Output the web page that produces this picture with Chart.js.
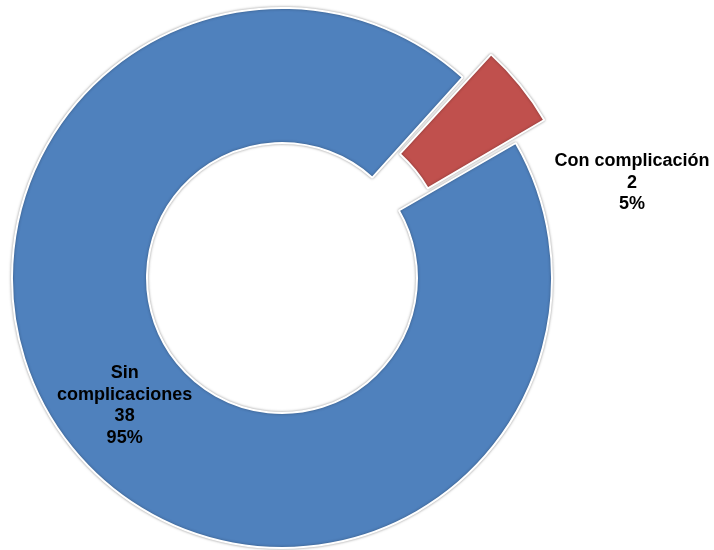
<html>
<head>
    <meta charset="utf-8">
    <style>
        body { margin: 0; background: #ffffff; }
        #wrap { width: 714px; height: 550px; }
    </style>
</head>
<body>
    <div id="wrap">
        <canvas id="myChart" width="714" height="550"></canvas>
    </div>

    <script src="https://cdn.jsdelivr.net/npm/chart.js@4.4.1/dist/chart.umd.min.js"></script>
    <script>
        const labels = ['Sin complicaciones', 'Con complicación'];
        const counts = [38, 2];
        const percents = [95, 5];
        // text lines of each data label
        const labelLines = [
            ['Sin', 'complicaciones', '38', '95%'],
            ['Con complicación', '2', '5%']
        ];
        const colors = ['#4F81BD', '#C0504D'];

        // soft grey halo around the slices
        const sliceShadow = {
            id: 'slice_shadow',
            beforeDatasetsDraw: (chart) => {
                const ctx = chart.ctx;
                ctx.save();
                ctx.shadowColor = 'rgba(0,0,0,0.35)';
                ctx.shadowBlur = 3;
                ctx.shadowOffsetX = 0;
                ctx.shadowOffsetY = 0;
            },
            afterDatasetsDraw: (chart) => {
                chart.ctx.restore();
            }
        };

        // value labels: inside the ring for the big slice, outside for the small one
        const sliceLabels = {
            id: 'slice_labels',
            afterDraw: (chart) => {
                const ctx = chart.ctx;
                const meta = chart.getDatasetMeta(0);
                ctx.save();
                ctx.font = 'bold 18px "Liberation Sans", Arial, sans-serif';
                ctx.fillStyle = '#000000';
                ctx.textAlign = 'center';
                ctx.textBaseline = 'middle';
                const lh = 21.5;
                meta.data.forEach((arc, i) => {
                    const mid = (arc.startAngle + arc.endAngle) / 2;
                    let x, y;
                    if (i === 0) {
                        const r = (arc.innerRadius + arc.outerRadius) / 2;
                        x = arc.x + Math.cos(mid) * r;
                        y = arc.y + Math.sin(mid) * r;
                    } else {
                        x = arc.x + arc.outerRadius + 80;
                        y = arc.y + Math.sin(mid) * arc.outerRadius * 0.56;
                    }
                    const lines = labelLines[i];
                    const top = y - (lines.length - 1) * lh / 2;
                    lines.forEach((t, k) => ctx.fillText(t, x, top + k * lh));
                });
                ctx.restore();
            }
        };

        const data = {
            labels,
            datasets: [{
                data: counts,
                backgroundColor: colors,
                borderColor: '#ffffff',
                borderWidth: 2,
                offset: [0, 86],
                hoverOffset: 0
            }]
        };

        const config = {
            type: 'doughnut',
            data: data,
            options: {
                responsive: false,
                animation: false,
                rotation: 60,
                radius: 270,
                cutout: '50%',
                layout: {
                    padding: { left: 0, right: 150, top: 6, bottom: 0 }
                },
                plugins: {
                    legend: { display: false },
                    tooltip: { enabled: false },
                    title: { display: false }
                }
            },
            plugins: [sliceShadow, sliceLabels]
        };
        var ctx = document.getElementById('myChart').getContext('2d');
        var myChart = new Chart(ctx, config);
    </script>
</body>
</html>
